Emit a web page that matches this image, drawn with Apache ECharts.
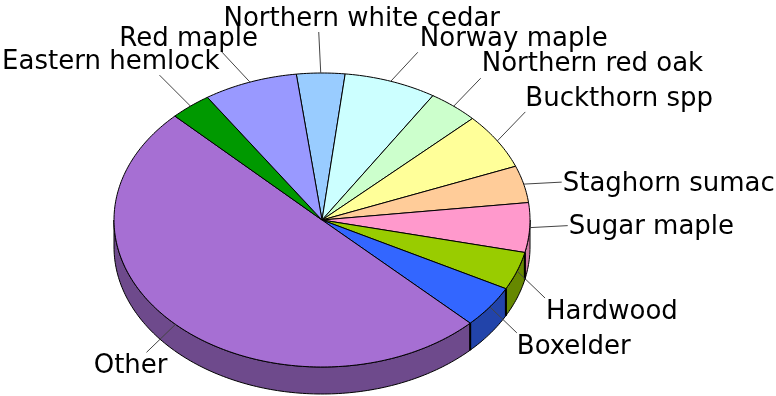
<!DOCTYPE html>
<html><head><meta charset="utf-8">
<script src="https://cdn.jsdelivr.net/npm/echarts@6/dist/echarts.min.js"></script>
<style>html,body{margin:0;padding:0;background:#fff}#c{width:776px;height:396px}</style>
</head><body><div id="c"></div>
<script>
// ---- data ----
const categories = ['Northern white cedar','Norway maple','Northern red oak','Buckthorn spp','Staghorn sumac','Sugar maple','Hardwood','Boxelder','Other','Eastern hemlock','Red maple'];
const values = [3.75, 7.17, 3.92, 6.17, 4.06, 5.44, 4.19, 4.64, 50.1, 3.22, 7.31];

// ---- styles ----
const topColors  = ['#99ccff','#ccffff','#ccffcc','#ffff99','#ffcc99','#ff99cc','#99cc00','#3366ff','#a66fd3','#009900','#9999ff'];
const sideColors = ['#6688aa','#88aaaa','#88aa88','#aaaa66','#aa8866','#cc7aa3','#668800','#2244aa','#6e4a8c','#006600','#6666aa'];

// ---- layout (pixels) ----
const START = -7.1;            // degrees clockwise from 12 o'clock
const CX = 322, CY = 220, RX = 208, RY = 147, DEPTH = 27;
// leader vector [lx, ly], text offset from leader end [tx, ty], text align
const labelLayout = [
  [-2,-41,  43,-13,'center'],
  [27,-29,   2,-13,'left'],
  [27,-28,   1,-14,'left'],
  [28,-29,   0,-13,'left'],
  [38, -2,   1,  2,'left'],
  [38, -2,   1,  2,'left'],
  [28, 27,   1, 14,'left'],
  [27, 26,   0, 14,'left'],
  [-29,28,  21, 14,'right'],
  [-31,-31, 60,-13,'right'],
  [-28,-30, 36,-13,'right']
];
const FONT = '26px "DejaVu Sans"';

const total = values.reduce((a, b) => a + b, 0);
const cum = []; let acc = 0;
values.forEach(v => { cum.push(acc); acc += v; });

function pt(deg, dy) {
  const r = deg * Math.PI / 180;
  return [CX + RX * Math.sin(r), CY - RY * Math.cos(r) + (dy || 0)];
}
function arc(a0, a1, dy) {
  const pts = [];
  const n = Math.max(2, Math.ceil(Math.abs(a1 - a0) / 1));
  for (let k = 0; k <= n; k++) pts.push(pt(a0 + (a1 - a0) * k / n, dy));
  return pts;
}

function renderItem(params, api) {
  const i = params.dataIndex;
  const v = api.value(0);
  const a0 = START + cum[i] / total * 360;
  const a1 = a0 + v / total * 360;
  const children = [];
  // side wall (front half visible)
  const s0 = Math.max(a0, 90), s1 = Math.min(a1, 270);
  if (s1 > s0) {
    const pts = arc(s0, s1, 0).concat(arc(s1, s0, DEPTH));
    children.push({ type: 'polygon', z2: 1, shape: { points: pts },
      style: { fill: sideColors[i], stroke: '#000', lineWidth: 1 } });
    if (s0 === a0) {
      const p = pt(a0, 0), q = pt(a0, DEPTH);
      children.push({ type: 'line', z2: 2, shape: { x1: p[0], y1: p[1], x2: q[0], y2: q[1] },
        style: { stroke: '#000', lineWidth: 2 } });
    }
  }
  // top face
  const topPts = [[CX, CY]].concat(arc(a0, a1, 0));
  children.push({ type: 'polygon', z2: 3, shape: { points: topPts },
    style: { fill: topColors[i], stroke: '#000', lineWidth: 1, lineJoin: 'round' } });
  // label
  const mid = (a0 + a1) / 2;
  const e = pt(mid, 0);
  const L = labelLayout[i];
  const end = [e[0] + L[0], e[1] + L[1]];
  children.push({ type: 'line', z2: 4, shape: { x1: e[0], y1: e[1], x2: end[0], y2: end[1] },
    style: { stroke: '#444', lineWidth: 1 } });
  children.push({ type: 'text', z2: 5,
    style: { text: categories[i], x: end[0] + L[2], y: end[1] + L[3], font: FONT, fill: '#000',
      align: L[4], verticalAlign: 'middle' } });
  return { type: 'group', children };
}

const chart = echarts.init(document.getElementById('c'), null, { renderer: 'canvas' });
chart.setOption({
  backgroundColor: '#ffffff',
  animation: false,
  series: [{
    type: 'custom',
    coordinateSystem: 'none',
    renderItem,
    data: values.map((v, i) => ({ name: categories[i], value: [v] }))
  }]
});
</script>
</body></html>
